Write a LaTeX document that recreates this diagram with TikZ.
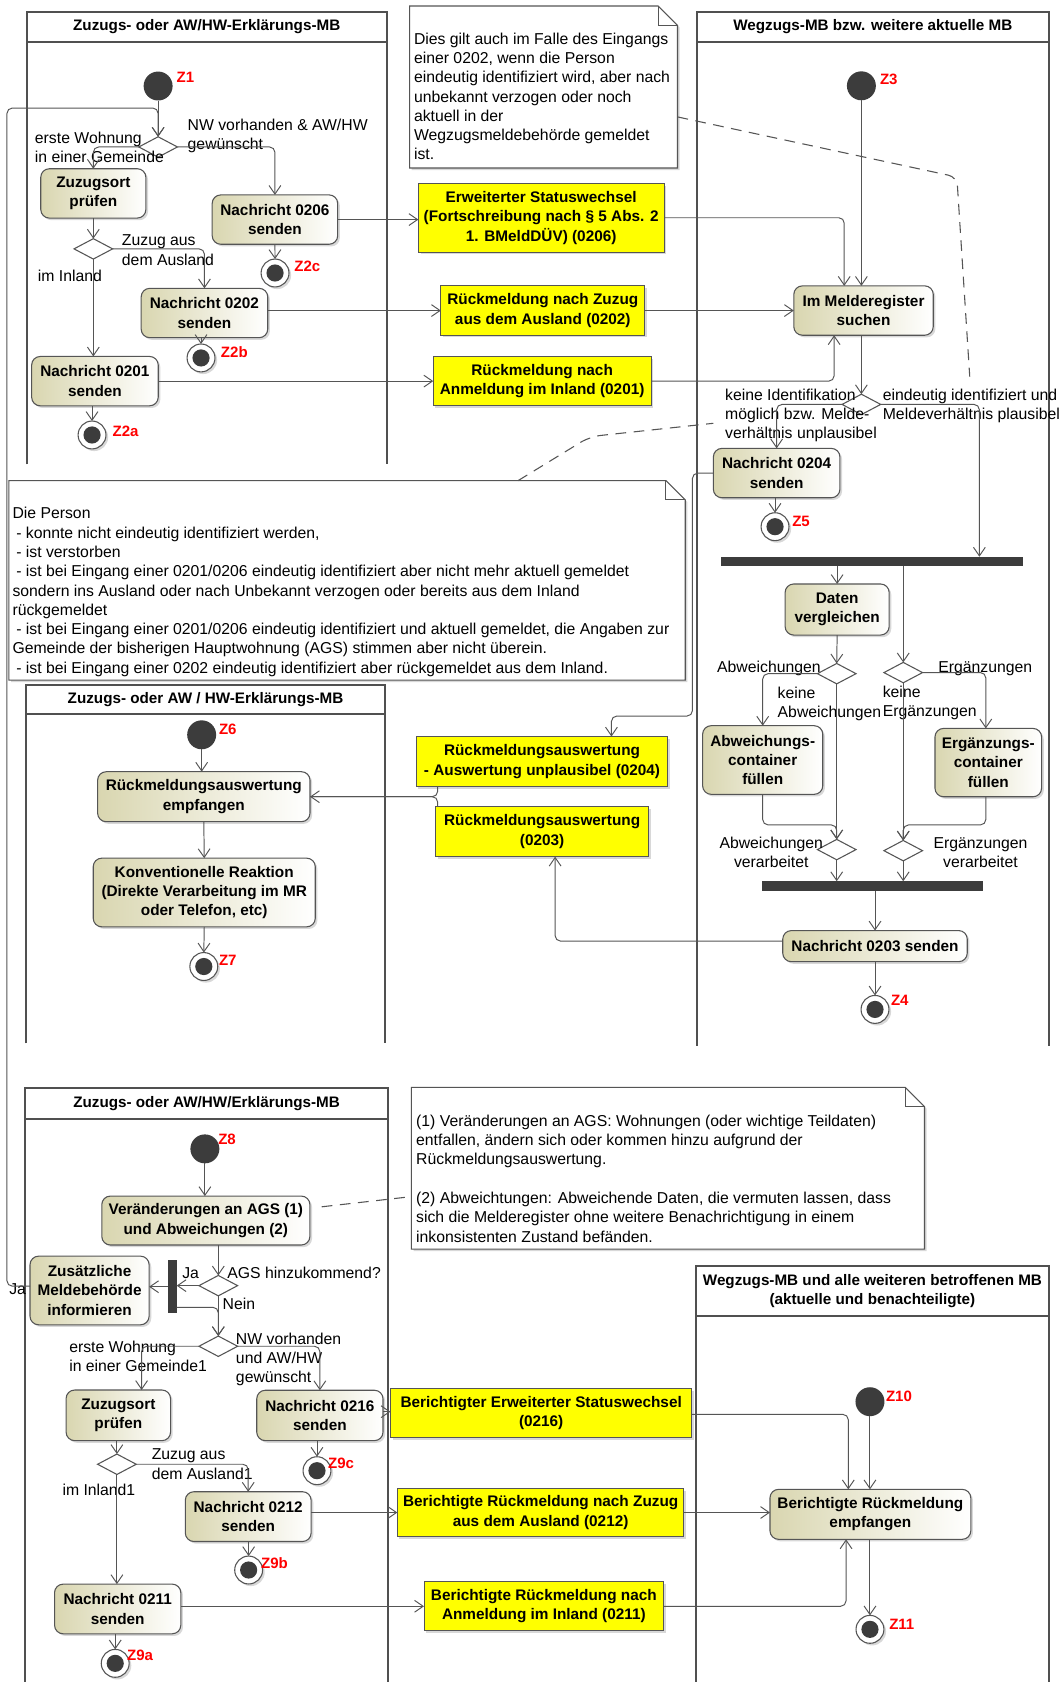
\documentclass[tikz,border=0pt]{standalone}
\usepackage{fontspec}
\setmainfont{Liberation Sans}
\usetikzlibrary{arrows.meta,shapes.geometric,shadows}
\definecolor{actL}{HTML}{D9D6B0}
\definecolor{lnc}{HTML}{555555}
\definecolor{lanec}{HTML}{505050}
\definecolor{startc}{HTML}{3C3C3C}
\definecolor{zred}{HTML}{FF0000}
\definecolor{yel}{HTML}{FFFF00}
\newcommand\lblf{\fontsize{14.7}{18}\selectfont}
\newcommand\boxf{\bfseries\fontsize{14.3}{18}\selectfont}
\newcommand\titf{\bfseries\fontsize{14.2}{18}\selectfont}
\newcommand\zlf{\bfseries\fontsize{14}{16}\selectfont}
\newcommand\umlnote[1]{%
  \path[notebg] (#1.north west) -- ([xshift=-18pt]#1.north east) -- ([yshift=-18pt]#1.north east) -- (#1.south east) -- (#1.south west) -- cycle;
  \draw[plain] ([xshift=-18pt]#1.north east) -- ([shift={(-18pt,-18pt)}]#1.north east) -- ([yshift=-18pt]#1.north east);
}
\tikzset{
  every node/.style={inner sep=0pt, outer sep=0pt},
  shad/.style={drop shadow={shadow xshift=2pt,shadow yshift=-2pt,opacity=0.3}},
  act/.style={rectangle, rounded corners=8pt, draw=lnc, line width=1pt, left color=actL, right color=white, align=center, font=\boxf, shad},
  ybox/.style={rectangle, draw=lnc, line width=0.9pt, fill=yel, align=center, font=\boxf, shad},
  dec/.style={diamond, draw=lnc, fill=white, line width=1pt, minimum width=36pt, minimum height=19pt},
  startn/.style={circle, fill=startc, minimum size=27pt},
  endn/.style={circle, draw=lnc, line width=1pt, fill=white, minimum size=26pt, shad,
    path picture={\fill[startc] (path picture bounding box.center) circle (8pt);}},
  bar/.style={rectangle, fill=startc},
  lbl/.style={font=\lblf, align=left},
  zl/.style={font=\zlf, text=zred},
  tit/.style={font=\titf, align=center},
  flow/.style={draw=lnc, line width=0.9pt, -{Straight Barb[length=8pt,width=11pt]}},
  plain/.style={draw=lnc, line width=0.9pt},
  rc/.style={rounded corners=5pt},
  notelink/.style={draw=lnc, line width=1pt, dash pattern=on 10pt off 7pt},
  lane/.style={draw=lanec, line width=1.7pt},
  notebg/.style={fill=white, draw=lnc, line width=1pt, shad},
}
\begin{document}
\begin{tikzpicture}[x=1pt,y=-1pt]
\useasboundingbox (0,0) rectangle (991,1568);
\fill[white] (0,0) rectangle (991,1568);

% ---------- swimlanes ----------
\draw[lane] (24.9,433) -- (24.9,10.9) -- (360.5,10.9) -- (360.5,433);
\draw[lane] (24.9,38.9) -- (360.5,38.9);
\node[tit] (t1) at (192.7,24.5) {Zuzugs- oder AW/HW-Erklärungs-MB};

\draw[lane] (649.4,975) -- (649.4,10.9) -- (978,10.9) -- (978,975);
\draw[lane] (649.4,38.9) -- (978,38.9);
\node[tit] (t2) at (813.7,24.5) {Wegzugs-MB bzw. weitere aktuelle MB};

\draw[lane] (24.3,972.6) -- (24.3,638.6) -- (359,638.6) -- (359,972.6);
\draw[lane] (24.3,665.6) -- (359,665.6);
\node[tit] (t3) at (191.6,652) {Zuzugs- oder AW / HW-Erklärungs-MB};

\draw[lane] (23.3,1568) -- (23.3,1014) -- (362,1014) -- (362,1568);
\draw[lane] (23.3,1043) -- (362,1043);
\node[tit] (t4) at (192.6,1028.5) {Zuzugs- oder AW/HW/Erklärungs-MB};

\draw[lane] (648.6,1568) -- (648.6,1180) -- (978,1180) -- (978,1568);
\draw[lane] (648.6,1226.8) -- (978,1226.8);
\node[tit] (t5) at (813.3,1203.5) {Wegzugs-MB und alle weiteren betroffenen MB\\(aktuelle und benachteiligte)};

% ---------- notes ----------
\node[minimum width=249.8pt, minimum height=151pt] (note1) at (506.7,81.1) {};
\umlnote{note1}
\node[lbl, anchor=north west] (note1t) at (386,30.5) {Dies gilt auch im Falle des Eingangs\\einer 0202, wenn die Person\\eindeutig identifiziert wird, aber nach\\unbekannt verzogen oder noch\\aktuell in der\\Wegzugsmeldebehörde gemeldet\\ist.};

\node[minimum width=630.5pt, minimum height=186pt] (note2) at (323.55,541) {};
\umlnote{note2}
\node[lbl, anchor=north west] (note2t) at (11.7,473) {Die Person\\\hspace*{3.5pt}- konnte nicht eindeutig identifiziert werden,\\\hspace*{3.5pt}- ist verstorben\\\hspace*{3.5pt}- ist bei Eingang einer 0201/0206 eindeutig identifiziert aber nicht mehr aktuell gemeldet\\sondern ins Ausland oder nach Unbekannt verzogen oder bereits aus dem Inland\\rückgemeldet\\\hspace*{3.5pt}- ist bei Eingang einer 0201/0206 eindeutig identifiziert und aktuell gemeldet, die Angaben zur\\Gemeinde der bisherigen Hauptwohnung (AGS) stimmen aber nicht überein.\\\hspace*{3.5pt}- ist bei Eingang einer 0202 eindeutig identifiziert aber rückgemeldet aus dem Inland.};

\node[minimum width=478.3pt, minimum height=150.8pt] (note3) at (622.65,1089) {};
\umlnote{note3}
\node[lbl, anchor=north west] (note3t) at (388,1039.2) {(1) Veränderungen an AGS: Wohnungen (oder wichtige Teildaten)\\entfallen, ändern sich oder kommen hinzu aufgrund der\\Rückmeldungsauswertung.\\[18pt](2) Abweichtungen: Abweichende Daten, die vermuten lassen, dass\\sich die Melderegister ohne weitere Benachrichtigung in einem\\inkonsistenten Zustand befänden.};

% ---------- lane 1 nodes ----------
\node[startn] (z1) at (147.4,80.2) {};
\node[zl, anchor=base west] (z1l) at (164.7,77.3) {Z1};
\node[dec] (d1) at (147.4,137) {};
\node[act, minimum width=98pt, minimum height=46pt] (zuz1) at (87,180.3) {Zuzugsort\\prüfen};
\node[act, minimum width=117pt, minimum height=46pt] (n0206) at (256.3,204.7) {Nachricht 0206\\senden};
\node[endn] (f2c) at (256.4,254.5) {};
\node[zl, anchor=base west] (f2cl) at (274.4,253) {Z2c};
\node[dec] (d2) at (87,232) {};
\node[act, minimum width=118pt, minimum height=46pt] (n0202) at (190.6,291.8) {Nachricht 0202\\senden};
\node[endn] (f2b) at (187.4,333.7) {};
\node[zl, anchor=base west] (f2bl) at (206,333.1) {Z2b};
\node[act, minimum width=118pt, minimum height=46pt] (n0201) at (88.5,355.3) {Nachricht 0201\\senden};
\node[endn] (f2a) at (85.8,405.5) {};
\node[zl, anchor=base west] (f2al) at (105,407.1) {Z2a};

\node[lbl, anchor=north west] (l1) at (32.6,123.1) {erste Wohnung\\in einer Gemeinde};
\node[lbl, anchor=north west] (l2) at (175,111) {NW vorhanden \& AW/HW\\gewünscht};
\node[lbl, anchor=north west] (l3) at (113.7,219.2) {Zuzug aus\\dem Ausland};
\node[lbl, anchor=base west] (l4) at (35.4,262.3) {im Inland};

% ---------- lane 2 nodes ----------
\node[startn] (z3) at (803,80) {};
\node[zl, anchor=base west] (z3l) at (820.4,78.9) {Z3};
\node[ybox, minimum width=229pt, minimum height=64pt] (yErw) at (504.5,203) {Erweiterter Statuswechsel\\(Fortschreibung nach § 5 Abs. 2\\1. BMeldDÜV) (0206)};
\node[ybox, minimum width=190pt, minimum height=46pt] (y0202) at (506,289.5) {Rückmeldung nach Zuzug\\aus dem Ausland (0202)};
\node[ybox, minimum width=203pt, minimum height=46pt] (y0201) at (505.4,355.3) {Rückmeldung nach\\Anmeldung im Inland (0201)};
\node[act, minimum width=130pt, minimum height=46pt] (melde) at (805,289.5) {Im Melderegister\\suchen};
\node[dec] (d3) at (803,377) {};
\node[act, minimum width=118pt, minimum height=46pt] (n0204) at (724,441) {Nachricht 0204\\senden};
\node[endn] (f5) at (722.5,491) {};
\node[zl, anchor=base west] (f5l) at (738.6,490.7) {Z5};
\node[bar, minimum width=282pt, minimum height=9pt] (bar1) at (812.8,523.5) {};
\node[act, minimum width=97pt, minimum height=47.6pt] (daten) at (780.4,568.2) {Daten\\vergleichen};
\node[dec] (d4) at (780,628) {};
\node[dec] (d5) at (842,627) {};
\node[act, minimum width=112pt, minimum height=64pt] (abw) at (711,708.5) {Abweichungs-\\container\\füllen};
\node[act, minimum width=99.4pt, minimum height=63.7pt] (erg) at (921.3,710.9) {Ergänzungs-\\container\\füllen};
\node[dec] (d6) at (780,792) {};
\node[dec] (d7) at (842,793) {};
\node[bar, minimum width=206pt, minimum height=9pt] (bar2) at (813.5,826) {};
\node[act, minimum width=172pt, minimum height=29pt] (n0203) at (815.7,882) {Nachricht 0203 senden};
\node[endn] (f4) at (815.7,941) {};
\node[zl, anchor=base west] (f4l) at (830.6,937.5) {Z4};

\node[lbl, anchor=north west] (l5) at (676,362.5) {keine Identifikation\\möglich bzw. Melde-\\verhältnis unplausibel};
\node[lbl, anchor=north west] (l6) at (823,362.5) {eindeutig identifiziert und\\Meldeverhältnis plausibel};
\node[lbl, anchor=base east] (l7) at (765,626.8) {Abweichungen};
\node[lbl, anchor=base west] (l8) at (874.7,626.8) {Ergänzungen};
\node[lbl, anchor=north west] (l9) at (725,640.5) {keine\\Abweichungen};
\node[lbl, anchor=north west] (l10) at (823,639.5) {keine\\Ergänzungen};
\node[lbl, align=center, anchor=north] (l11) at (719,780.5) {Abweichungen\\verarbeitet};
\node[lbl, align=center, anchor=north] (l12) at (914,780.5) {Ergänzungen\\verarbeitet};

% ---------- lane 3 nodes ----------
\node[startn] (z6) at (188,685) {};
\node[zl, anchor=base west] (z6l) at (204.2,684.3) {Z6};
\node[act, minimum width=198pt, minimum height=46.6pt] (empf) at (190,742.7) {Rückmeldungsauswertung\\empfangen};
\node[act, minimum width=207pt, minimum height=64pt] (konv) at (190.4,832) {Konventionelle Reaktion\\(Direkte Verarbeitung im MR\\oder Telefon, etc)};
\node[endn] (f7) at (190,901) {};
\node[zl, anchor=base west] (f7l) at (204.2,900.3) {Z7};
\node[ybox, minimum width=234.6pt, minimum height=46.7pt] (y04) at (505.3,710) {Rückmeldungsauswertung\\- Auswertung unplausibel (0204)};
\node[ybox, minimum width=198.2pt, minimum height=46.6pt] (y03) at (505.4,775.3) {Rückmeldungsauswertung\\(0203)};

% ---------- lane 4 nodes ----------
\node[startn] (z8) at (191,1071) {};
\node[zl, anchor=base west] (z8l) at (203.5,1067.3) {Z8};
\node[act, minimum width=194pt, minimum height=45.6pt] (ver) at (191.9,1137.8) {Veränderungen an AGS (1)\\und Abweichungen (2)};
\node[dec] (dA) at (203.5,1198.5) {};
\node[bar, minimum width=8.4pt, minimum height=49.7pt] (barV) at (160.5,1199.5) {};
\node[act, minimum width=111pt, minimum height=64pt] (zus) at (83.5,1203) {Zusätzliche\\Meldebehörde\\informieren};
\node[dec] (dN) at (203.5,1255) {};
\node[act, minimum width=97.4pt, minimum height=47.2pt] (zuz2) at (110.3,1319.4) {Zuzugsort\\prüfen};
\node[act, minimum width=117.7pt, minimum height=47pt] (n0216) at (298.2,1319.5) {Nachricht 0216\\senden};
\node[endn] (f9c) at (295.5,1371) {};
\node[zl, anchor=base west] (f9cl) at (305.9,1368.8) {Z9c};
\node[dec] (dZ) at (109,1365) {};
\node[act, minimum width=117.3pt, minimum height=46.4pt] (n0212) at (231.4,1413.8) {Nachricht 0212\\senden};
\node[endn] (f9b) at (231.8,1463.6) {};
\node[zl, anchor=base west] (f9bl) at (243.5,1462.1) {Z9b};
\node[act, minimum width=117.7pt, minimum height=46.3pt] (n0211) at (109.7,1499.9) {Nachricht 0211\\senden};
\node[endn] (f9a) at (107.4,1550.6) {};
\node[zl, anchor=base west] (f9al) at (118.6,1548.3) {Z9a};

\node[lbl, anchor=base west] (l13) at (170,1191.8) {Ja};
\node[lbl, anchor=base west] (l14) at (212,1191.8) {AGS hinzukommend?};
\node[lbl, anchor=base west] (l15) at (207.6,1220.3) {Nein};
\node[lbl, anchor=base west] (l16) at (8.7,1206.3) {Ja};
\node[lbl, anchor=north west] (l17) at (64.6,1249.9) {erste Wohnung\\in einer Gemeinde1};
\node[lbl, anchor=north west] (l18) at (220,1242.5) {NW vorhanden\\und AW/HW\\gewünscht};
\node[lbl, anchor=north west] (l19) at (141.5,1350.9) {Zuzug aus\\dem Ausland1};
\node[lbl, anchor=base west] (l20) at (58.3,1393.7) {im Inland1};

\node[ybox, minimum width=281pt, minimum height=45.7pt] (y0216) at (504.5,1317.2) {Berichtigter Erweiterter Statuswechsel\\(0216)};
\node[ybox, minimum width=267.2pt, minimum height=45pt] (y0212) at (504,1410) {Berichtigte Rückmeldung nach Zuzug\\aus dem Ausland (0212)};
\node[ybox, minimum width=223.5pt, minimum height=45.7pt] (y0211) at (507,1497.4) {Berichtigte Rückmeldung nach\\Anmeldung im Inland (0211)};

% ---------- lane 5 nodes ----------
\node[startn] (z10) at (811,1306.7) {};
\node[zl, anchor=base west] (z10l) at (826,1306.7) {Z10};
\node[act, minimum width=187.2pt, minimum height=46.6pt] (bre) at (811.4,1411.7) {Berichtigte Rückmeldung\\empfangen};
\node[endn] (f11) at (811,1518.9) {};
\node[zl, anchor=base west] (f11l) at (829,1518.6) {Z11};

% ---------- helper coordinates ----------
\coordinate (n1end) at (904,351);
\coordinate (n2end) at (665,394.6);
\coordinate (m1) at (780,769);
\coordinate (m2) at (842,769);
\coordinate (fbA) at (6.5,1199);
\coordinate (fbB) at (6.5,100.7);
\coordinate (fbC) at (147.4,100.7);
\coordinate (c04a) at (645.5,667.5);

% ---------- note links ----------
\draw[notelink, rounded corners=8pt] ([yshift=-27.9pt]note1.east) -- (892,165) -- (n1end);
\draw[notelink, rounded corners=10pt] ([xshift=159.5pt]note2.north) -- (550,407) -- (n2end);
\draw[notelink] ([shift={(11pt,12.8pt)}]ver.east) -- ([yshift=-26.5pt]note3.west);

% ---------- connectors lane 1 ----------
\draw[flow] (z1.south) -- (d1.north);
\draw[flow, rc] ([yshift=4pt]zus.west) -- (fbA) -- (fbB) -- (fbC) -- (d1.north);
\draw[flow, rc] (d1.west) -| (zuz1.north);
\draw[flow, rc] (d1.east) -| (n0206.north);
\draw[flow] (zuz1.south) -- (d2.north);
\draw[flow, rc] (d2.east) -| (n0202.north);
\draw[flow] (d2.south) -- (d2.south |- n0201.north);
\draw[flow] (n0206.south) -- (f2c.north);
\draw[flow] (n0202.south -| f2b) -- (f2b.north);
\draw[flow] (n0201.south -| f2a) -- (f2a.north);
\draw[flow] (n0206.east) -- (n0206.east -| yErw.west);
\draw[flow] (y0202.west -| n0202.east) -- (y0202.west);
\draw[flow] (n0201.east) -- (y0201.west);

% ---------- connectors lane 2 ----------
\draw[flow, rc] (yErw.east) -| ([xshift=-18pt]melde.north);
\draw[flow] (z3.south) -- (z3.south |- melde.north);
\draw[flow] (y0202.east) -- (melde.west);
\draw[flow, rc] (y0201.east) -| ([xshift=-27.4pt]melde.south);
\draw[flow] (melde.south -| d3) -- (d3.north);
\draw[flow, rc] (d3.west) -| (n0204.north);
\draw[flow, rc] (d3.east) -| ([xshift=100.2pt]bar1.north);
\draw[flow] (n0204.south -| f5) -- (f5.north);
\draw[flow, rc] (n0204.west) -| (c04a) -| ([xshift=64.7pt]y04.north);
\draw[flow] (daten.north |- bar1.south) -- (daten.north);
\draw[flow] (d5.north |- bar1.south) -- (d5.north);
\draw[flow] (daten.south) -- (d4.north);
\draw[flow, rc] (d4.west) -| (abw.north);
\draw[flow, rc] (d5.east) -| ([xshift=-2.3pt]erg.north);
\draw[flow] (d4.south) -- (d6.north);
\draw[flow] (d5.south) -- (d7.north);
\draw[flow, rc] (abw.south) |- (m1) -- (d6.north);
\draw[flow, rc] ([xshift=-2.3pt]erg.south) |- (m2) -- (d7.north);
\draw[flow] (d6.south) -- (d6.south |- bar2.north);
\draw[flow] (d7.south) -- (d7.south |- bar2.north);
\draw[flow] (n0203.north |- bar2.south) -- (n0203.north);
\draw[flow] (n0203.south) -- (f4.north);
\draw[flow, rc] ([yshift=4.7pt]n0203.west) -| ([xshift=12.1pt]y03.south);

% ---------- connectors lane 3 ----------
\draw[flow] (z6.south) -- (z6.south |- empf.north);
\draw[flow] (empf.south) -- (konv.north);
\draw[flow] (konv.south) -- (f7.north);
\draw[flow, rc] ([xshift=-97.3pt]y04.south) |- (empf.east);
\draw[plain, rc] ([xshift=-97.4pt]y03.north) |- (empf.east);

% ---------- connectors lane 4 ----------
\draw[flow] (z8.south) -- (z8.south |- ver.north);
\draw[flow] (dA.north |- ver.south) -- (dA.north);
\draw[flow] (dA.west) -- (dA.west -| barV.east);
\draw[flow] (barV.west) -- (barV.west -| zus.east);
\draw[flow] (dA.south) -- (dN.north);
\draw[flow, rc] ([yshift=-19.2pt]barV.east) -| (dN.north);
\draw[flow, rc] (dN.west) -| ([xshift=21.7pt]zuz2.north);
\draw[flow, rc] (dN.east) -| (n0216.north);
\draw[flow] (zuz2.south -| dZ) -- (dZ.north);
\draw[flow, rc] (dZ.east) -| (n0212.north);
\draw[flow] (dZ.south) -- (dZ.south |- n0211.north);
\draw[flow] (n0216.south -| f9c) -- (f9c.north);
\draw[flow] (n0212.south -| f9b) -- (f9b.north);
\draw[flow] (n0211.south -| f9a) -- (f9a.north);
\draw[flow] ([yshift=3.5pt]n0216.east) -- ([yshift=3.5pt]n0216.east -| y0216.west);
\draw[flow] (y0212.west -| n0212.east) -- (y0212.west);
\draw[flow] (y0211.west -| n0211.east) -- (y0211.west);

% ---------- connectors lane 5 ----------
\draw[flow, rc] ([yshift=-1.3pt]y0216.east) -| ([xshift=-20.6pt]bre.north);
\draw[flow] (z10.south) -- (z10.south |- bre.north);
\draw[flow] (y0212.east) -- (y0212.east -| bre.west);
\draw[flow, rc] (y0211.east) -| ([xshift=-22.7pt]bre.south);
\draw[flow] (bre.south -| f11) -- (f11.north);
\end{tikzpicture}
\end{document}
